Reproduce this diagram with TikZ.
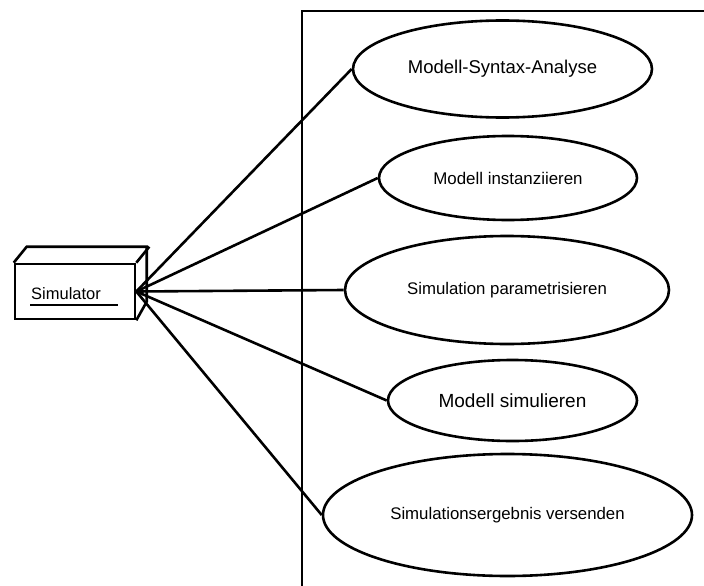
\documentclass[tikz,border=0pt]{standalone}
\usepackage{fontspec}
\setmainfont{Liberation Sans}
\usetikzlibrary{shapes.geometric}
\begin{document}
\begin{tikzpicture}[x=1pt,y=-1pt,
  stroke/.style={line width=2.6pt},
  usecase/.style={ellipse, draw, stroke, inner sep=0pt},
  link/.style={stroke},
  actorbox/.style={draw, stroke, minimum width=120pt, minimum height=55pt, inner sep=0pt}]
\useasboundingbox (0,0) rectangle (704,586);

% system boundary
\draw[stroke] (704,11) -- (302,11) -- (302,586);

% actor drawn as a box
\node[actorbox] (sim) at (75,291.5) {};
\draw[stroke, line join=miter] (sim.north west) -- ++(13,-16) -- ++(120,0) -- ++(0,55) -- (sim.south east);
\draw[stroke] (sim.north east) -- ++(13,-16);
\node[font=\fontsize{16.5}{20}\selectfont, anchor=base west, inner sep=0pt] (simlabel) at (31,299) {Simulator};
\draw[line width=1.4pt] (30,305) -- (118,305);

% use cases
\node[usecase, minimum width=299pt, minimum height=97pt, font=\fontsize{18.5}{22}\selectfont] (e1) at (502.5,69) {Modell-Syntax-Analyse};
\node[usecase, minimum width=258pt, minimum height=84pt, font=\fontsize{16.9}{20}\selectfont] (e2) at (508,178) {Modell instanziieren};
\node[usecase, minimum width=324pt, minimum height=108pt, font=\fontsize{16.8}{20}\selectfont] (e3) at (507,290) {Simulation parametrisieren};
\node[usecase, minimum width=249pt, minimum height=81pt, font=\fontsize{19}{22}\selectfont] (e4) at (512.5,400.5) {Modell simulieren};
\node[usecase, minimum width=369pt, minimum height=122pt, font=\fontsize{16.8}{20}\selectfont] (e5) at (507.5,515) {Simulationsergebnis versenden};

% associations
\foreach \u in {e1,e2,e3,e4,e5}
  \draw[link] (sim.east) -- (\u.west);
\end{tikzpicture}
\end{document}
